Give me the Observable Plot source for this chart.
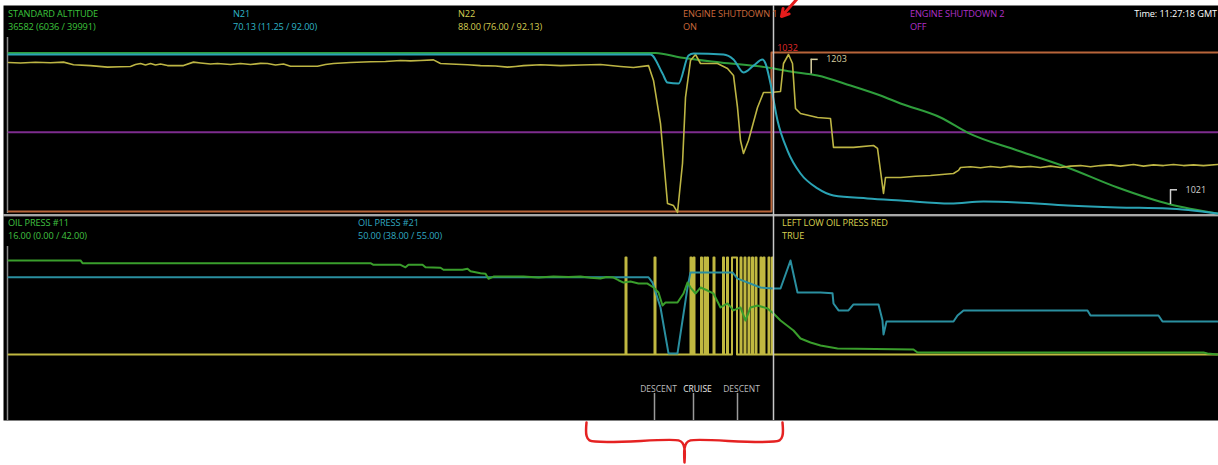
<!DOCTYPE html>
<html><head><meta charset="utf-8">
<script src="https://cdn.jsdelivr.net/npm/d3@7"></script>
<script src="https://cdn.jsdelivr.net/npm/@observablehq/plot@0.6"></script>
<style>
html,body{margin:0;padding:0;background:#fff;}
#wrap{position:relative;width:1218px;height:465px;overflow:hidden;font-family:"Open Sans",sans-serif;}
#wrap svg{position:absolute;left:0;}
.lab{position:absolute;font-size:9.2px;line-height:10px;white-space:nowrap;letter-spacing:-0.1px;}
</style></head><body><div id="wrap"></div>
<script>
// time axis: seconds of the recorded window (cursor at 11:27:18 GMT)
const timeDomain = [0, 1209];
const cursorTime = 765;

// ---- top track (values in % of track height) ----
const altitude = [[0,92.8],[647,92.8],[672,90.2],[712,87.3],[759,84.4],[782,82.1],[809,79.8],[842,74.0],[872,68.2],[892,63.6],[932,55.5],[959,46.8],[1009,36.4],[1059,26.6],[1109,15.0],[1162,5.2],[1209,0]];
const n21 = [[0,91.9],[642,91.9],[654,80.9],[659,75.7],[670,75.1],[680,91.3],[685,92.5],[715,91.9],[725,89.0],[735,81.5],[745,85.5],[754,89.0],[757,86.7],[762,75.1],[769,53.8],[779,36.4],[792,23.1],[809,14.5],[825,10.4],[859,8.7],[892,7.5],[942,5.8],[975,6.9],[1009,6.4],[1059,4.6],[1109,3.5],[1159,2.9],[1209,0]];
const n22 = [[0,87.3],[12,87.0],[27,87.4],[42,87.1],[55,87.5],[65,86.0],[82,85.5],[99,84.6],[112,84.8],[122,85.0],[127,86.1],[132,86.7],[137,85.8],[142,86.7],[147,85.8],[152,86.4],[159,85.5],[175,85.5],[185,87.5],[192,87.0],[202,86.4],[209,86.7],[222,86.1],[232,86.7],[242,86.1],[252,86.8],[259,86.7],[267,85.8],[275,86.4],[282,85.1],[309,85.1],[317,86.1],[325,86.7],[342,87.3],[362,87.7],[377,87.9],[392,88.4],[402,88.2],[412,88.4],[425,88.8],[432,86.7],[442,86.4],[459,86.0],[472,85.5],[487,85.3],[499,84.6],[507,85.0],[515,85.5],[532,86.0],[552,85.5],[572,85.8],[592,86.1],[612,85.0],[625,84.4],[640,85.5],[645,76.9],[652,52.0],[659,5.8],[665,4.6],[669,0.6],[674,28.9],[677,67.1],[682,88.4],[687,91.9],[692,86.7],[709,86.7],[719,83.8],[725,79.8],[729,61.3],[732,42.2],[735,34.7],[740,42.2],[749,61.3],[755,69.9],[762,69.9],[772,70.5],[775,86.7],[780,91.9],[784,86.7],[787,60.7],[792,57.8],[809,55.5],[822,54.9],[825,38.2],[845,38.2],[865,39.3],[869,37.6],[875,11.6],[877,20.8],[892,20.8],[907,21.5],[922,22.0],[945,23.1],[950,24.9],[952,26.6],[962,27.0],[972,26.4],[982,27.2],[992,26.6],[1002,27.4],[1012,26.8],[1022,27.2],[1032,26.6],[1042,27.4],[1052,26.6],[1062,27.4],[1072,27.7],[1082,27.0],[1092,27.7],[1102,28.1],[1112,27.4],[1125,28.3],[1135,27.4],[1145,28.1],[1155,27.7],[1165,28.3],[1175,27.7],[1185,28.1],[1195,27.7],[1209,28.3]];
const engineShutdown1 = [[0,0],[763,1],[1209,1]];   // 0 = OFF, 1 = ON
const engineShutdown1Levels = [1.2, 93.1];
const engineShutdown2 = [[0,0],[1209,0]];
const engineShutdown2Levels = [47.0, 93.1];

// ---- bottom track ----
const oilPress11 = [[0,96.4],[72,96.4],[74,94.8],[362,94.8],[365,93.8],[392,93.8],[397,92.3],[400,93.8],[414,93.8],[417,92.3],[432,92.0],[435,90.8],[454,90.8],[459,91.4],[462,89.9],[472,88.7],[477,88.4],[480,85.4],[485,86.7],[515,86.7],[530,86.1],[545,86.7],[560,86.4],[572,86.7],[582,86.0],[592,85.5],[598,86.4],[605,86.1],[610,84.5],[615,83.1],[622,83.7],[630,82.5],[639,82.5],[645,80.1],[650,77.1],[654,69.3],[657,71.1],[669,71.1],[675,76.5],[679,83.1],[682,80.1],[687,76.5],[692,80.1],[699,78.3],[705,76.5],[712,68.1],[719,70.5],[725,66.3],[732,68.1],[737,60.2],[742,68.1],[749,69.3],[759,67.5],[765,64.5],[772,60.2],[785,54.2],[792,49.4],[802,47.0],[812,45.2],[829,43.4],[905,42.8],[909,41.0],[1195,41.0],[1199,40.4],[1209,39.8]];
const oilPress21 = [[0,86.3],[640,86.3],[644,83.1],[652,68.1],[660,40.4],[669,40.4],[679,80.1],[682,89.2],[724,89.2],[729,85.5],[752,80.1],[765,79.5],[772,79.5],[782,96.4],[789,77.1],[812,77.1],[824,76.7],[825,70.5],[830,66.3],[840,66.3],[845,69.9],[870,69.9],[874,60.2],[875,51.8],[878,59.6],[945,59.6],[949,63.3],[955,66.3],[1079,66.3],[1082,63.3],[1150,63.3],[1154,59.6],[1209,59.6]];
const lowOilTrueIntervals = [[617,618],[646,647],[682,683],[685,686],[692.5,693.5],[696,697],[698.5,699.5],[705,706],[714.5,715.5],[718.5,719.5],[723.5,728.5],[732,733],[736,737],[740,741],[743.5,744.5],[747,748],[752,753],[755,756],[760,761],[763.5,764.5]];
const lowOilLevels = [39.8, 98.2];

// phases and annotations
const phaseTimes = [646, 685, 729];
const phaseLabels = ["DESCENT", "CRUISE", "DESCENT"];
const calloutTimes = [802.7, 1162];
const calloutValues = [80.6, 5.2];
const calloutLabels = ["1203", "1021"];
const calloutColors = ["#d8d0a0", "#d0d0d0"];

const headerNames = ["STANDARD ALTITUDE","N21","N22","ENGINE SHUTDOWN 1","ENGINE SHUTDOWN 2","OIL PRESS #11","OIL PRESS #21","LEFT LOW OIL PRESS RED"];
const headerValues = ["36582 (6036 / 39991)","70.13 (11.25 / 92.00)","88.00 (76.00 / 92.13)","ON","OFF","16.00 (0.00 / 42.00)","50.00 (38.00 / 55.00)","TRUE"];
const headerColors = ["#3cc43c","#2fb5c8","#d4cc50","#cc6a3c","#b030c8","#40c040","#30a8c0","#d8d050"];
const headerLeft = [8,233,458,683,910,8,358,782];
const headerTop = [9,9,9,9,9,218,218,218];

const pts = (arr) => arr.map(([t, v]) => ({t, v}));
const levels = (arr, lv) => arr.map(([t, s]) => ({t, v: lv[s]}));
const lowOil = (() => {
  const out = [{t: 0, v: lowOilLevels[0]}];
  for (const [a, b] of lowOilTrueIntervals) { out.push({t: a, v: lowOilLevels[1]}, {t: b, v: lowOilLevels[0]}); }
  out.push({t: timeDomain[1], v: lowOilLevels[0]});
  return out;
})();
const callouts = calloutTimes.map((t, i) => ({t, v: calloutValues[i], top: calloutValues[i] + 8.5, label: calloutLabels[i], color: calloutColors[i]}));
const phases = phaseTimes.map((t, i) => ({t, label: phaseLabels[i]}));

const common = {
  width: 1218, marginLeft: 8, marginRight: 1,
  x: {domain: timeDomain, axis: null},
  y: {domain: [0, 100], axis: null},
  style: {background: "transparent", fontFamily: "Open Sans, sans-serif", overflow: "visible"}
};

const topPlot = Plot.plot({
  ...common, height: 216, marginTop: 40, marginBottom: 3,
  marks: [
    Plot.frame({fill: "black", stroke: null, insetTop: -35, insetLeft: -5, insetBottom: -3, insetRight: -1}),
    Plot.ruleY([0], {dy: 1.5, stroke: "#a8a8a8", strokeWidth: 2, insetLeft: -5, insetRight: -1}),
    Plot.ruleX([0], {dx: -1, stroke: "#8a8a8a", strokeWidth: 1.5, insetTop: -3}),
    Plot.line(levels(engineShutdown2, engineShutdown2Levels), {x: "t", y: "v", stroke: "#7e2c8e", strokeWidth: 2}),
    Plot.line(levels(engineShutdown1, engineShutdown1Levels), {x: "t", y: "v", stroke: "#b8653a", strokeWidth: 2, curve: "step-after"}),
    Plot.line(pts(altitude), {x: "t", y: "v", stroke: "#2f9e3c", strokeWidth: 2, curve: "monotone-x"}),
    Plot.line(pts(n22), {x: "t", y: "v", stroke: "#bdb544", strokeWidth: 1.6}),
    Plot.line(pts(n21), {x: "t", y: "v", stroke: "#2aa3b4", strokeWidth: 2, curve: "monotone-x"}),
    Plot.ruleX(callouts, {x: "t", y1: "v", y2: "top", stroke: "color", strokeWidth: 1.5}),
    Plot.ruleY(callouts, {y: "top", x1: "t", x2: d => d.t + 7, stroke: "color", strokeWidth: 1.5}),
    Plot.text(callouts, {x: d => d.t + 15, y: "top", text: "label", fill: "color", textAnchor: "start", fontSize: 9}),
    Plot.text([{t: 779, v: 95.4}], {x: "t", y: "v", text: () => "1032", fill: "#e02a2a", fontSize: 9}),
    Plot.ruleX([cursorTime], {stroke: "#c8c8c8", strokeWidth: 1.5, insetTop: -35, insetBottom: -3}),
    Plot.arrow([{x1: 789, y1: 124.3, x2: 773, y2: 113.9}], {x1: "x1", y1: "y1", x2: "x2", y2: "y2", stroke: "#e51c1c", strokeWidth: 3, headLength: 9})
  ]
});
topPlot.style.top = "0px";

const brace = [
  [578,-1.2],[578,-9],[581,-12],[670,-12],[674,-13.5],[676,-17],[676,-25.3],
  [676,-17],[678,-13.5],[682,-12],[771,-12],[774,-9],[774,-1.2]
].map(([t, v]) => ({t, v}));

const bottomPlot = Plot.plot({
  ...common, height: 249, marginTop: 38, marginBottom: 45,
  marks: [
    Plot.frame({fill: "black", stroke: null, insetTop: -38, insetLeft: -5, insetRight: -1}),
    Plot.ruleX([0], {dx: -1, stroke: "#8a8a8a", strokeWidth: 1.5, insetTop: -8}),
    Plot.line(lowOil, {x: "t", y: "v", stroke: "#c0b840", strokeWidth: 2, curve: "step-after"}),
    Plot.line(pts(oilPress21), {x: "t", y: "v", stroke: "#2a8fa0", strokeWidth: 2}),
    Plot.line(pts(oilPress11), {x: "t", y: "v", stroke: "#3a9e2c", strokeWidth: 2}),
    Plot.ruleX(phases, {x: "t", y1: 0, y2: 16.3, stroke: "#9a9a9a", strokeWidth: 1.5}),
    Plot.text(phases, {x: "t", y: 18.7, text: "label", dx: 4, fill: d => d.label === "CRUISE" ? "#e8e8e8" : "#bcbcbc", fontWeight: d => d.label === "CRUISE" ? "bold" : "normal", fontSize: 8.5}),
    Plot.ruleX([cursorTime], {stroke: "#c8c8c8", strokeWidth: 1.5, insetTop: -38}),
    Plot.line(brace, {x: "t", y: "v", stroke: "#e52222", strokeWidth: 2.5, curve: "catmull-rom"})
  ]
});
bottomPlot.style.top = "216px";

const wrap = document.getElementById("wrap");
wrap.append(topPlot, bottomPlot);

headerNames.forEach((name, i) => {
  const a = document.createElement("div");
  a.className = "lab"; a.textContent = name;
  a.style.left = headerLeft[i] + "px"; a.style.top = headerTop[i] + "px"; a.style.color = headerColors[i];
  const b = document.createElement("div");
  b.className = "lab"; b.textContent = headerValues[i];
  b.style.left = headerLeft[i] + "px"; b.style.top = (headerTop[i] + 13) + "px"; b.style.color = headerColors[i];
  wrap.append(a, b);
});
const tm = document.createElement("div");
tm.className = "lab"; tm.textContent = "Time: 11:27:18 GMT";
tm.style.right = "1px"; tm.style.top = "9px"; tm.style.color = "#ffffff";
wrap.append(tm);
</script></body></html>
